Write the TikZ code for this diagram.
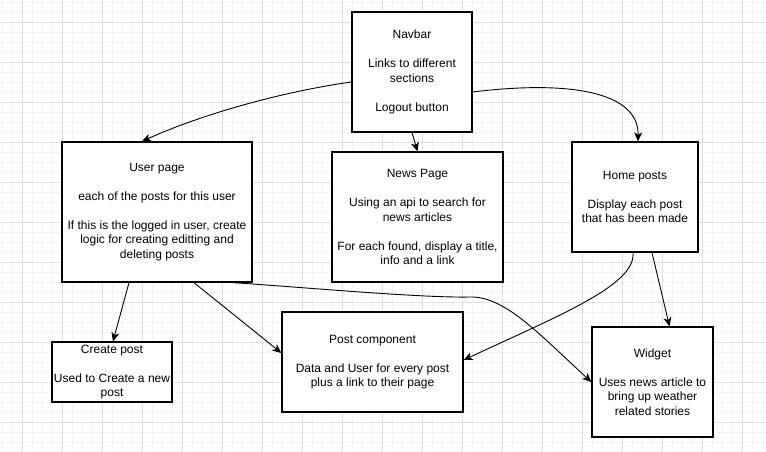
\documentclass[tikz,border=0pt]{standalone}
\usepackage{fontspec}
\setmainfont{Liberation Sans}
\usetikzlibrary{arrows.meta}
\definecolor{minorgrid}{HTML}{F4F4F4}
\definecolor{majorgrid}{HTML}{E0E0E0}
\begin{document}
\begin{tikzpicture}[x=1pt,y=-1pt,
  box/.style={draw=black, line width=1.3pt, fill=white, align=center,
    font=\fontsize{12}{14.5}\selectfont, inner sep=0pt},
  conn/.style={line width=0.9pt, -{Stealth[length=9pt,width=8pt,inset=2.5pt]}}]
\useasboundingbox (0,0) rectangle (766,451);
\fill[white] (0,0) rectangle (766,451);
\foreach \i in {2,12,...,762} \draw[minorgrid, line width=0.8pt] (\i,0) -- (\i,451);
\foreach \j in {2,12,...,442} \draw[minorgrid, line width=0.8pt] (0,\j) -- (766,\j);
\foreach \i in {22,62,...,742} \draw[majorgrid, line width=0.9pt] (\i,0) -- (\i,451);
\foreach \j in {22,62,...,422} \draw[majorgrid, line width=0.9pt] (0,\j) -- (766,\j);

\node[box, minimum width=120pt, minimum height=120pt] (nav) at (412,72)
  {Navbar\\[14.5pt]Links to different\\sections\\[14.5pt]Logout button};
\node[box, minimum width=190pt, minimum height=140pt] (user) at (157,212)
  {User page\\[14.5pt]each of the posts for this user\\[14.5pt]If this is the logged in user, create\\logic for creating editting and\\deleting posts};
\node[box, minimum width=171pt, minimum height=130pt] (news) at (417.5,217)
  {News Page\\[14.5pt]Using an api to search for\\news articles\\[14.5pt]For each found, display a title,\\info and a link};
\node[box, minimum width=126pt, minimum height=110pt] (home) at (635,197)
  {Home posts\\[14.5pt]Display each post\\that has been made};
\node[box, minimum width=120pt, minimum height=60pt] (create) at (112,372)
  {Create post\\[14.5pt]Used to Create a new\\post};
\node[box, minimum width=181pt, minimum height=100pt] (post) at (372.5,362)
  {Post component\\[14.5pt]Data and User for every post\\plus a link to their page};
\node[box, minimum width=121pt, minimum height=110pt] (widget) at (652.5,382)
  {Widget\\[14.5pt]Uses news article to\\bring up weather\\related stories};

\draw[conn] ([yshift=-10pt]nav.west) .. controls (280,92) and (200,115) .. ([xshift=-15pt]user.north);
\draw[conn] (nav.south) -- (news.north);
\draw[conn] ([yshift=-20pt]nav.east) .. controls (570,80) and (639,92) .. ([xshift=3pt]home.north);
\draw[conn] ([xshift=-28pt]user.south) -- ([xshift=1pt]create.north);
\draw[conn] ([xshift=37pt]user.south) -- ([yshift=9pt]post.west);
\draw[conn] ([xshift=76pt]user.south) .. controls (300,287) and (420,298) .. (470,297)
  .. controls (505,296) and (540,335) .. (widget.west);
\draw[conn] ([xshift=-2pt]home.south) .. controls (636,285) and (560,315) .. ([yshift=2pt]post.east);
\draw[conn] ([xshift=17pt]home.south) -- ([xshift=17pt]widget.north);
\end{tikzpicture}
\end{document}
